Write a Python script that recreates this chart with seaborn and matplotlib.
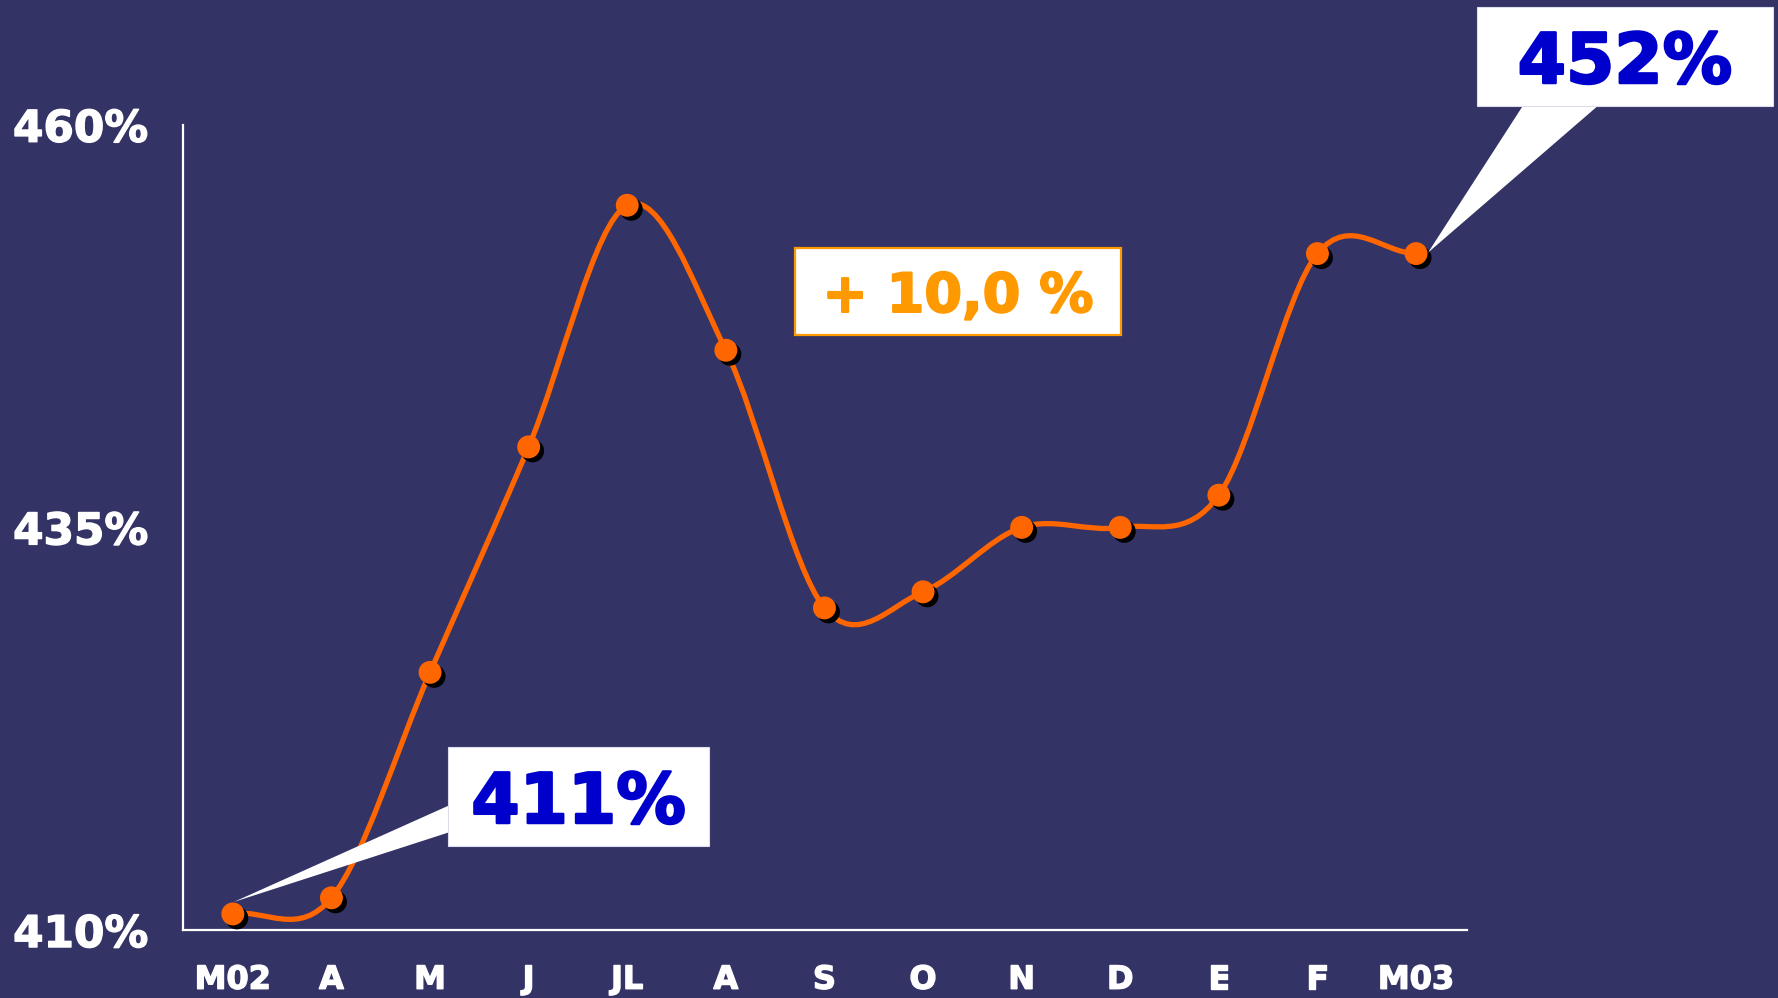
import numpy as np
import pandas as pd
import matplotlib
matplotlib.use("Agg")
import matplotlib.pyplot as plt
import matplotlib.patheffects as pe
import seaborn as sns
from matplotlib.path import Path
from matplotlib.patches import PathPatch, Polygon, Rectangle
from matplotlib.transforms import offset_copy

# Monthly ratio, March 2002 to March 2003 (%)
months = ["M02", "A", "M", "J", "JL", "A", "S", "O", "N", "D", "E", "F", "M03"]
ratio = [411, 412, 426, 440, 455, 446, 430, 431, 435, 435, 437, 452, 452]
y_ticks = [410, 435, 460]
y_tick_labels = ["410%", "435%", "460%"]
start_label = "411%"
end_label = "452%"
change_label = "+ 10,0 %"

BG = "#333366"
LINE = "#FF6600"
BLUE = "#0000CC"
GOLD = "#FF9900"

sns.set_theme(style="white")
plt.rcParams["font.family"] = ["DejaVu Sans"]
plt.rcParams["font.weight"] = "bold"


def heavy(color, w=1.2):
    return [pe.withStroke(linewidth=w, foreground=color)]


df = pd.DataFrame({"pos": np.arange(len(months)), "month": months, "ratio": ratio})

fig = plt.figure(figsize=(17.78, 9.98), dpi=100, facecolor=BG)
ax = fig.add_axes([0.1029, 0.0681, 0.7222, 0.8069])
ax.set_facecolor(BG)

# Smoothed line through the points (cubic Bezier, Catmull-Rom tangents)
pts = df[["pos", "ratio"]].to_numpy(dtype=float)
n = len(pts)
tang = np.zeros_like(pts)
tang[0] = pts[1] - pts[0]
tang[-1] = pts[-1] - pts[-2]
tang[1:-1] = (pts[2:] - pts[:-2]) / 2.0
verts = [tuple(pts[0])]
codes = [Path.MOVETO]
for i in range(n - 1):
    verts += [tuple(pts[i] + tang[i] / 3.0), tuple(pts[i + 1] - tang[i + 1] / 3.0), tuple(pts[i + 1])]
    codes += [Path.CURVE4] * 3
ax.add_patch(PathPatch(Path(verts, codes), facecolor="none", edgecolor=LINE,
                       lw=3.8, capstyle="round", joinstyle="round", zorder=3))

# Markers with a drop shadow
shadow = offset_copy(ax.transData, fig=fig, x=4, y=-4, units="dots")
sns.scatterplot(data=df, x="pos", y="ratio", ax=ax, color="black", s=16.5 ** 2,
                edgecolor="none", transform=shadow, zorder=4, legend=False)
sns.scatterplot(data=df, x="pos", y="ratio", ax=ax, color=LINE, s=16.5 ** 2,
                edgecolor="none", zorder=5, legend=False)

ax.set_xlim(-0.506, 12.517)
ax.set_ylim(410, 460)
ax.set_xticks(df["pos"])
ax.set_xticklabels(months)
ax.set_yticks(y_ticks)
ax.set_yticklabels(y_tick_labels)
ax.set_xlabel("")
ax.set_ylabel("")
ax.tick_params(axis="x", length=0, pad=25, labelsize=23, labelcolor="white")
ax.tick_params(axis="y", length=0, pad=25, labelsize=31.5, labelcolor="white")
for lab in ax.get_xticklabels() + ax.get_yticklabels():
    lab.set_fontweight("bold")
    lab.set_path_effects(heavy("white", 1.0))
for side in ["top", "right"]:
    ax.spines[side].set_visible(False)
for side in ["left", "bottom"]:
    ax.spines[side].set_color("white")
    ax.spines[side].set_linewidth(1.6)

fig.canvas.draw()
W, H = fig.canvas.get_width_height()


def to_fig(px, py):
    """pixel position (origin top-left) -> figure fraction"""
    return px / W, 1 - py / H


def callout(point_idx, tip_offset, box, base, text, size):
    # tip sits just beside the marker of the given point
    cx, cy = ax.transData.transform((df["pos"][point_idx], df["ratio"][point_idx]))
    tip = fig.transFigure.inverted().transform((cx + tip_offset[0], cy + tip_offset[1]))
    b1 = to_fig(*base[0])
    b2 = to_fig(*base[1])
    fig.patches.append(Polygon([tip, b1, b2], closed=True, facecolor="white",
                               edgecolor="none", transform=fig.transFigure, zorder=6))
    x0, y1 = to_fig(box[0], box[1])
    x1, y0 = to_fig(box[2], box[3])
    fig.patches.append(Rectangle((x0, y0), x1 - x0, y1 - y0, facecolor="white",
                                 edgecolor="#DDDDEE", lw=0.8, transform=fig.transFigure, zorder=7))
    fig.text((x0 + x1) / 2, (y0 + y1) / 2, text, color=BLUE, fontsize=size,
             fontweight="bold", ha="center", va="center_baseline", zorder=8,
             path_effects=heavy(BLUE, 1.8))


callout(0, (1, 12), (448, 747, 709, 846), ((450, 805), (450, 832)), start_label, 50)
callout(12, (12, 1), (1477, 7, 1773, 106), ((1524, 104), (1600, 104)), end_label, 50)

# Overall change badge
cx0, cy1 = to_fig(795, 248)
cx1, cy0 = to_fig(1121, 335)
fig.patches.append(Rectangle((cx0, cy0), cx1 - cx0, cy1 - cy0, facecolor="white",
                             edgecolor=GOLD, lw=1.6, transform=fig.transFigure, zorder=7))
fig.text((cx0 + cx1) / 2, (cy0 + cy1) / 2, change_label, color=GOLD, fontsize=39,
         fontweight="bold", ha="center", va="center_baseline", zorder=8,
         path_effects=heavy(GOLD, 1.4))

fig.savefig("out.png", dpi=100, facecolor=BG)
